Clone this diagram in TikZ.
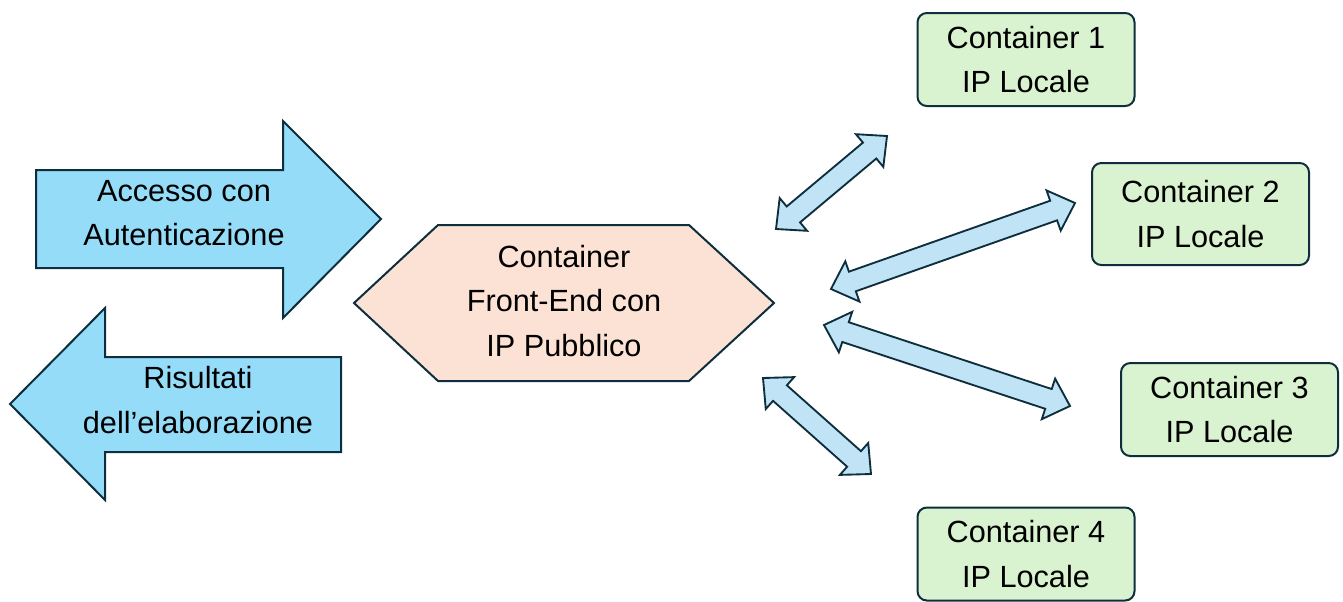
\documentclass[tikz,border=0pt]{standalone}
\usepackage{fontspec}
\setmainfont{Liberation Sans}
\usetikzlibrary{calc}
\definecolor{arrowblue}{HTML}{94DCF8}
\definecolor{linkblue}{HTML}{C0E4F5}
\definecolor{hexpeach}{HTML}{FBE2D5}
\definecolor{boxgreen}{HTML}{D9F2D0}
\definecolor{edgenavy}{HTML}{0E2E3E}
\begin{document}
\begin{tikzpicture}[x=0.75pt, y=-0.75pt,
  every node/.style={font=\fontsize{23}{33.5}\selectfont, align=center, inner sep=0pt},
  bigarrow/.style={draw=edgenavy, line width=1.5pt, fill=arrowblue},
  frontend/.style={draw=edgenavy, line width=1.5pt, fill=hexpeach},
  linkarrow/.style={draw=edgenavy, line width=1.4pt, fill=linkblue},
  container/.style={draw=edgenavy, line width=1.5pt, fill=boxgreen, rounded corners=7pt,
    minimum width=162.75pt, minimum height=69.75pt}]
\useasboundingbox (0,0) rectangle (1343,601);

% ingresso e uscita
\draw[bigarrow] (36,170) -- (283,170) -- (283,121) -- (381,219) -- (283,318) -- (283,268) -- (36,268) -- cycle;
\draw[bigarrow] (10,404) -- (105,308) -- (105,357) -- (341,357) -- (341,452) -- (105,452) -- (105,500) -- cycle;
\node (accesso) at (184,213) {Accesso con\\Autenticazione};
\node (risultati) at (198,400) {Risultati\\dell’elaborazione};

% front-end
\draw[frontend] (354,303) -- (438,225) -- (689,225) -- (774,303) -- (689,381) -- (438,381) -- cycle;
\node (frontend) at (564,301) {Container\\Front-End con\\IP Pubblico};

% container interni
\node[container] (c1) at (1026,59.5) {Container 1\\IP Locale};
\node[container, minimum height=76.5pt] (c2) at (1200.5,214) {Container 2\\IP Locale};
\node[container] (c3) at (1229.5,409.5) {Container 3\\IP Locale};
\node[container] (c4) at (1026,554) {Container 4\\IP Locale};

% frecce doppie
\coordinate (a1) at (776,229); \coordinate (b1) at (887,136);
\coordinate (a2) at (831,289); \coordinate (b2) at (1075,203);
\coordinate (a3) at (824,325); \coordinate (b3) at (1070,406);
\coordinate (a4) at (763,378); \coordinate (b4) at (871,474);
\foreach \a/\b in {a1/b1,a2/b2,a3/b3,a4/b4}
  \draw[linkarrow] (\a)
    -- ($($(\a)!17pt!(\b)$)!16pt!90:(\b)$)
    -- ($($(\a)!17pt!(\b)$)!7.8pt!90:(\b)$)
    -- ($($(\b)!17pt!(\a)$)!7.8pt!-90:(\a)$)
    -- ($($(\b)!17pt!(\a)$)!16pt!-90:(\a)$)
    -- (\b)
    -- ($($(\b)!17pt!(\a)$)!16pt!90:(\a)$)
    -- ($($(\b)!17pt!(\a)$)!7.8pt!90:(\a)$)
    -- ($($(\a)!17pt!(\b)$)!7.8pt!-90:(\b)$)
    -- ($($(\a)!17pt!(\b)$)!16pt!-90:(\b)$)
    -- cycle;
\end{tikzpicture}
\end{document}
